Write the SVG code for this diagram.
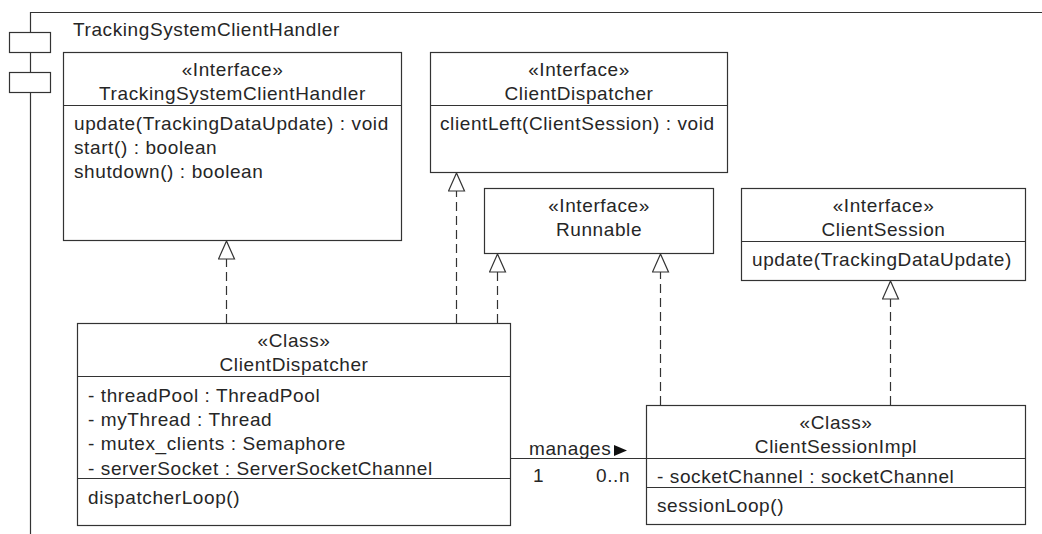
<svg xmlns="http://www.w3.org/2000/svg" width="1042" height="534" viewBox="0 0 1042 534">
  <style>
    .box { fill: #ffffff; stroke: #333333; stroke-width: 1.2; }
    .sep { stroke: #333333; stroke-width: 1.2; fill: none; }
    .frame { stroke: #333333; stroke-width: 1.2; fill: none; }
    .t { font-family: "Liberation Sans", Arial, sans-serif; font-size: 19px; letter-spacing: 0.6px; fill: #262626; }
    .c { text-anchor: middle; }
    .real { stroke: #333333; stroke-width: 1.2; fill: none; stroke-dasharray: 9 5; }
    .assoc { stroke: #333333; stroke-width: 1.2; fill: none; }
  </style>
  <defs>
    <marker id="realize" viewBox="0 0 20 18" refX="19" refY="9" markerWidth="20" markerHeight="18" markerUnits="userSpaceOnUse" orient="auto">
      <path d="M1,1 L19,9 L1,17 Z" fill="#ffffff" stroke="#333333" stroke-width="1.2" stroke-dasharray="none"/>
    </marker>
  </defs>

  <rect width="1042" height="534" fill="#ffffff"/>

  <!-- component frame -->
  <g id="component-frame">
    <path class="frame" d="M30.5,534 V12.5 H1042"/>
    <rect class="box" x="9.5" y="32.5" width="41" height="20"/>
    <rect class="box" x="9.5" y="72.5" width="41" height="20"/>
    <text class="t" x="73" y="36">TrackingSystemClientHandler</text>
  </g>

  <!-- connectors -->
  <g id="connectors">
    <path class="real" d="M226.5,323 V241" marker-end="url(#realize)"/>
    <path class="real" d="M456.5,323 V173" marker-end="url(#realize)"/>
    <path class="real" d="M497.5,323 V254" marker-end="url(#realize)"/>
    <path class="real" d="M660.5,405 V254" marker-end="url(#realize)"/>
    <path class="real" d="M890.5,405 V281" marker-end="url(#realize)"/>
    <path class="assoc" d="M510.5,458.5 H646.5"/>
    <text class="t" x="529" y="455">manages</text>
    <polygon points="614,445 627,450.5 614,456" fill="#111111"/>
    <text class="t" x="533" y="482">1</text>
    <text class="t" x="596" y="482">0..n</text>
  </g>

  <!-- interface TrackingSystemClientHandler -->
  <g id="iface-tracking-system-client-handler">
    <rect class="box" x="63.5" y="52.5" width="338" height="188"/>
    <path class="sep" d="M63.5,105.5 H401.5"/>
    <text class="t c" x="232.5" y="76">«Interface»</text>
    <text class="t c" x="232.5" y="100">TrackingSystemClientHandler</text>
    <text class="t" x="74" y="130">update(TrackingDataUpdate) : void</text>
    <text class="t" x="74" y="154">start() : boolean</text>
    <text class="t" x="74" y="178">shutdown() : boolean</text>
  </g>

  <!-- interface ClientDispatcher -->
  <g id="iface-client-dispatcher">
    <rect class="box" x="430.5" y="52.5" width="297" height="120"/>
    <path class="sep" d="M430.5,105.5 H727.5"/>
    <text class="t c" x="579" y="76">«Interface»</text>
    <text class="t c" x="579" y="100">ClientDispatcher</text>
    <text class="t" x="440" y="130">clientLeft(ClientSession) : void</text>
  </g>

  <!-- interface Runnable -->
  <g id="iface-runnable">
    <rect class="box" x="484.5" y="188.5" width="229" height="65"/>
    <text class="t c" x="599" y="212">«Interface»</text>
    <text class="t c" x="599" y="236">Runnable</text>
  </g>

  <!-- interface ClientSession -->
  <g id="iface-client-session">
    <rect class="box" x="741.5" y="188.5" width="284" height="92"/>
    <path class="sep" d="M741.5,241.5 H1025.5"/>
    <text class="t c" x="883.5" y="212">«Interface»</text>
    <text class="t c" x="883.5" y="236">ClientSession</text>
    <text class="t" x="752" y="266">update(TrackingDataUpdate)</text>
  </g>

  <!-- class ClientDispatcher -->
  <g id="class-client-dispatcher">
    <rect class="box" x="77.5" y="323.5" width="433" height="202"/>
    <path class="sep" d="M77.5,376.5 H510.5"/>
    <path class="sep" d="M77.5,478.5 H510.5"/>
    <text class="t c" x="294" y="347">«Class»</text>
    <text class="t c" x="294" y="371">ClientDispatcher</text>
    <text class="t" x="88" y="401.5">- threadPool : ThreadPool</text>
    <text class="t" x="88" y="426">- myThread : Thread</text>
    <text class="t" x="88" y="450">- mutex_clients : Semaphore</text>
    <text class="t" x="88" y="474.5">- serverSocket : ServerSocketChannel</text>
    <text class="t" x="88" y="503.5">dispatcherLoop()</text>
  </g>

  <!-- class ClientSessionImpl -->
  <g id="class-client-session-impl">
    <rect class="box" x="646.5" y="405.5" width="379" height="119"/>
    <path class="sep" d="M646.5,458.5 H1025.5"/>
    <path class="sep" d="M646.5,487.5 H1025.5"/>
    <text class="t c" x="836" y="429">«Class»</text>
    <text class="t c" x="836" y="453">ClientSessionImpl</text>
    <text class="t" x="657" y="482.5">- socketChannel : socketChannel</text>
    <text class="t" x="657" y="511.5">sessionLoop()</text>
  </g>
</svg>
